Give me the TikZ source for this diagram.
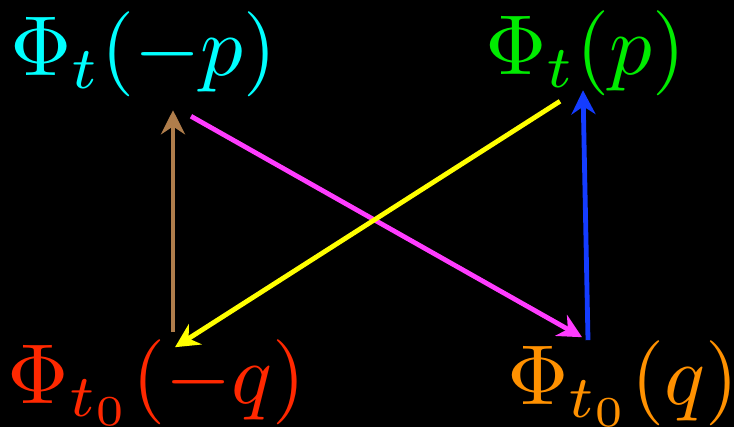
\documentclass[tikz,border=0pt]{standalone}
\usepackage{amsmath}
\usepackage{xcolor}
\usepackage{tikz}
\usetikzlibrary{arrows.meta,calc}

\definecolor{phicyan}{RGB}{0,255,255}
\definecolor{phigreen}{RGB}{0,235,0}
\definecolor{phired}{RGB}{255,40,0}
\definecolor{phiorange}{RGB}{255,145,0}
\definecolor{arrbrown}{RGB}{175,125,75}
\definecolor{arrmagenta}{RGB}{255,60,255}
\definecolor{arryellow}{RGB}{255,255,0}
\definecolor{arrblue}{RGB}{20,60,255}

\begin{document}
\begin{tikzpicture}[
    field/.style={
      anchor=base west, inner sep=0pt, outer sep=0pt,
      scale=6.05, transform shape
    },
    arrow/.style={-{Stealth[length=6mm,width=6mm]},line width=1.2mm}
  ]
    \fill[black] (0,0) rectangle (18.35,10.675);
    \useasboundingbox (0,0) rectangle (18.35,10.675);

    \node[field,text=phicyan]   (mp)  at (0.25,8.775)   {$\Phi_t(-p)$};
    \node[field,text=phigreen]  (pp)  at (12.125,8.8)   {$\Phi_t(p)$};
    \node[field,text=phired]    (mq)  at (0.2,0.575)    {$\Phi_{t_0}(-q)$};
    \node[field,text=phiorange] (pq)  at (12.675,0.55)  {$\Phi_{t_0}(q)$};

    \draw[arrow,arrbrown]   ($(mq.north west)+(4.125,0.2)$)   -- ($(mp.south west)+(4.075,-0.325)$);
    \draw[arrow,arrmagenta] ($(mp.south west)+(4.525,-0.475)$) -- ($(pq.north west)+(1.875,0.1)$);
    \draw[arrow,arryellow]  ($(pp.south west)+(1.875,-0.125)$) -- ($(mq.north west)+(4.175,-0.175)$);
    \draw[arrow,arrblue]    ($(pq.north west)+(2.025,0.025)$) -- ($(pp.south west)+(2.45,0.15)$);
  \end{tikzpicture}
\end{document}
